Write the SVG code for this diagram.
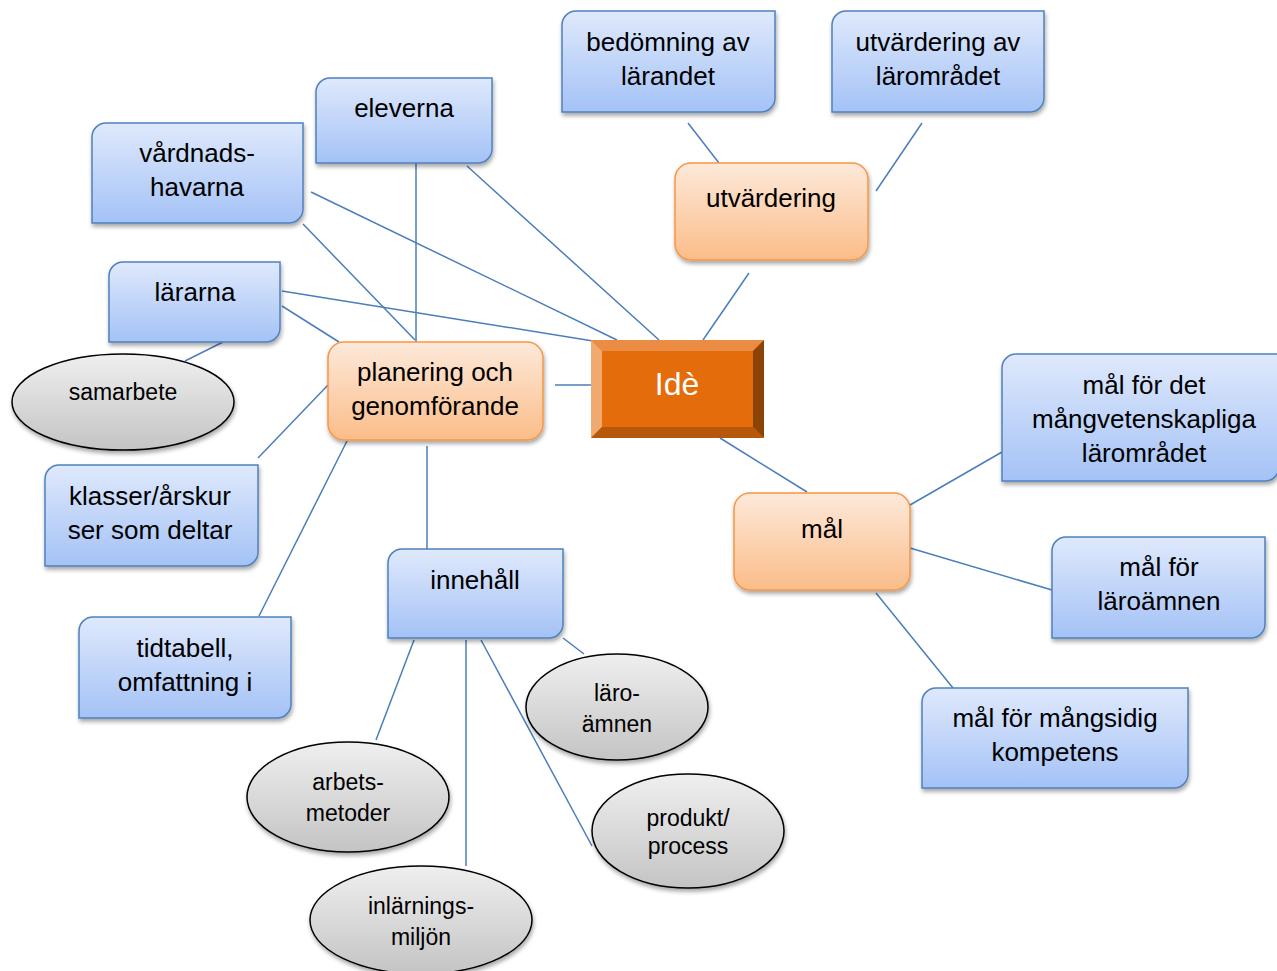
<svg xmlns="http://www.w3.org/2000/svg" width="1277" height="971" viewBox="0 0 1277 971">
<defs>
<linearGradient id="gBlue" x1="0" y1="0" x2="0" y2="1"><stop offset="0" stop-color="#dfe9fc"/><stop offset="1" stop-color="#a4c2f6"/></linearGradient>
<linearGradient id="gOr" x1="0" y1="0" x2="0" y2="1"><stop offset="0" stop-color="#fde9da"/><stop offset="1" stop-color="#fbbd89"/></linearGradient>
<linearGradient id="gGrey" x1="0" y1="0" x2="0" y2="1"><stop offset="0" stop-color="#efefef"/><stop offset="1" stop-color="#c4c4c4"/></linearGradient>
<filter id="sh" x="-10%" y="-10%" width="130%" height="135%"><feDropShadow dx="1" dy="3" stdDeviation="2" flood-color="#000" flood-opacity="0.35"/></filter>
<style>
.blue{fill:url(#gBlue);stroke:#4f81bd;stroke-width:1.5;filter:url(#sh)}
.or{fill:url(#gOr);stroke:#f79646;stroke-width:1.5;filter:url(#sh)}
.ell{fill:url(#gGrey);stroke:#000;stroke-width:1.5;filter:url(#sh)}
.t{font-family:"Liberation Sans",Arial,sans-serif;font-size:26px;fill:#000;text-anchor:middle}
.te{font-family:"Liberation Sans",Arial,sans-serif;font-size:23px;fill:#000;text-anchor:middle}
.ti{font-family:"Liberation Sans",Arial,sans-serif;font-size:32px;fill:#fff;text-anchor:middle}
#connectors line{stroke:#4a7ebb;stroke-width:1.5}
</style>
</defs>
<rect width="1277" height="971" fill="#fff"/>
<g id="connectors">
<line x1="688" y1="123" x2="719" y2="163"/>
<line x1="922" y1="123" x2="876" y2="191"/>
<line x1="749" y1="273" x2="703" y2="340"/>
<line x1="467" y1="166" x2="659" y2="340"/>
<line x1="311" y1="192" x2="617" y2="340"/>
<line x1="282" y1="291" x2="593" y2="341"/>
<line x1="303" y1="224" x2="415" y2="340"/>
<line x1="416" y1="163" x2="416" y2="342"/>
<line x1="282" y1="306" x2="339" y2="342"/>
<line x1="223" y1="342" x2="185" y2="361"/>
<line x1="328" y1="385" x2="258" y2="458"/>
<line x1="347" y1="441" x2="259" y2="616"/>
<line x1="427" y1="446" x2="427" y2="549"/>
<line x1="555" y1="385" x2="591" y2="385"/>
<line x1="720" y1="438" x2="807" y2="492"/>
<line x1="910" y1="505" x2="1002" y2="452"/>
<line x1="910" y1="548" x2="1052" y2="590"/>
<line x1="876" y1="593" x2="953" y2="688"/>
<line x1="414" y1="640" x2="376" y2="740"/>
<line x1="466" y1="640" x2="466" y2="866"/>
<line x1="481" y1="640" x2="592" y2="846"/>
<line x1="563" y1="638" x2="584" y2="654"/>
</g>
<g id="bedomning"><path class="blue" d="M562,25 A14,14 0 0 1 576,11 L775,11 L775,98 A14,14 0 0 1 761,112 L562,112 Z"/><text class="t" x="668" y="51">bedömning av</text><text class="t" x="668" y="85">lärandet</text></g>
<g id="utv-av"><path class="blue" d="M832,25 A14,14 0 0 1 846,11 L1044,11 L1044,98 A14,14 0 0 1 1030,112 L832,112 Z"/><text class="t" x="938" y="51">utvärdering av</text><text class="t" x="938" y="85">lärområdet</text></g>
<g id="eleverna"><path class="blue" d="M316,92 A14,14 0 0 1 330,78 L492,78 L492,149 A14,14 0 0 1 478,163 L316,163 Z"/><text class="t" x="404" y="117">eleverna</text></g>
<g id="vardnad"><path class="blue" d="M92,137 A14,14 0 0 1 106,123 L303,123 L303,209 A14,14 0 0 1 289,223 L92,223 Z"/><text class="t" x="197" y="162">vårdnads-</text><text class="t" x="197" y="196">havarna</text></g>
<g id="lararna"><path class="blue" d="M109,276 A14,14 0 0 1 123,262 L280,262 L280,328 A14,14 0 0 1 266,342 L109,342 Z"/><text class="t" x="195" y="301">lärarna</text></g>
<g id="klasser"><path class="blue" d="M45,479 A14,14 0 0 1 59,465 L258,465 L258,552 A14,14 0 0 1 244,566 L45,566 Z"/><text class="t" x="150" y="505">klasser/årskur</text><text class="t" x="150" y="539">ser som deltar</text></g>
<g id="tidtabell"><path class="blue" d="M79,631 A14,14 0 0 1 93,617 L291,617 L291,704 A14,14 0 0 1 277,718 L79,718 Z"/><text class="t" x="185" y="657">tidtabell,</text><text class="t" x="185" y="691">omfattning i</text></g>
<g id="innehall"><path class="blue" d="M388,563 A14,14 0 0 1 402,549 L563,549 L563,624 A14,14 0 0 1 549,638 L388,638 Z"/><text class="t" x="475" y="589">innehåll</text></g>
<g id="mal-det"><path class="blue" d="M1002,368 A14,14 0 0 1 1016,354 L1279,354 L1279,467 A14,14 0 0 1 1265,481 L1002,481 Z"/><text class="t" x="1144" y="394">mål för det</text><text class="t" x="1144" y="428">mångvetenskapliga</text><text class="t" x="1144" y="462">lärområdet</text></g>
<g id="mal-laro"><path class="blue" d="M1052,551 A14,14 0 0 1 1066,537 L1265,537 L1265,624 A14,14 0 0 1 1251,638 L1052,638 Z"/><text class="t" x="1159" y="576">mål för</text><text class="t" x="1159" y="610">läroämnen</text></g>
<g id="mal-komp"><path class="blue" d="M922,702 A14,14 0 0 1 936,688 L1188,688 L1188,774 A14,14 0 0 1 1174,788 L922,788 Z"/><text class="t" x="1055" y="727">mål för mångsidig</text><text class="t" x="1055" y="761">kompetens</text></g>
<g id="utvardering"><rect class="or" x="675" y="163" width="193" height="97" rx="16"/><text class="t" x="771" y="207">utvärdering</text></g>
<g id="planering"><rect class="or" x="328" y="342" width="215" height="98" rx="16"/><text class="t" x="435" y="381">planering och</text><text class="t" x="435" y="415">genomförande</text></g>
<g id="mal"><rect class="or" x="734" y="493" width="176" height="97" rx="16"/><text class="t" x="822" y="538">mål</text></g>
<g id="ide">
<rect x="591" y="340" width="173" height="98" rx="2" fill="#e46c0a"/>
<polygon points="591,340 764,340 753,351 602,351" fill="#eb8c44"/>
<polygon points="591,340 602,351 602,427 591,438" fill="#f0a96f"/>
<polygon points="764,340 764,438 753,427 753,351" fill="#8c4406"/>
<polygon points="591,438 602,427 753,427 764,438" fill="#b6570a"/>
<rect x="602" y="351" width="151" height="76" fill="#e46c0a"/>
<text class="ti" x="677" y="395">Idè</text>
</g>
<g id="samarbete"><ellipse class="ell" cx="123" cy="402" rx="111" ry="48"/><text class="te" x="123" y="400">samarbete</text></g>
<g id="laroamnen"><ellipse class="ell" cx="617" cy="707" rx="91" ry="53"/><text class="te" x="617" y="701">läro-</text><text class="te" x="617" y="732">ämnen</text></g>
<g id="arbetsmetoder"><ellipse class="ell" cx="348" cy="797" rx="101" ry="55"/><text class="te" x="348" y="790">arbets-</text><text class="te" x="348" y="821">metoder</text></g>
<g id="inlarning"><ellipse class="ell" cx="421" cy="920" rx="111" ry="54"/><text class="te" x="421" y="914">inlärnings-</text><text class="te" x="421" y="945">miljön</text></g>
<g id="produkt"><ellipse class="ell" cx="688" cy="831" rx="96" ry="57"/><text class="te" x="688" y="826">produkt/</text><text class="te" x="688" y="854">process</text></g>
</svg>
